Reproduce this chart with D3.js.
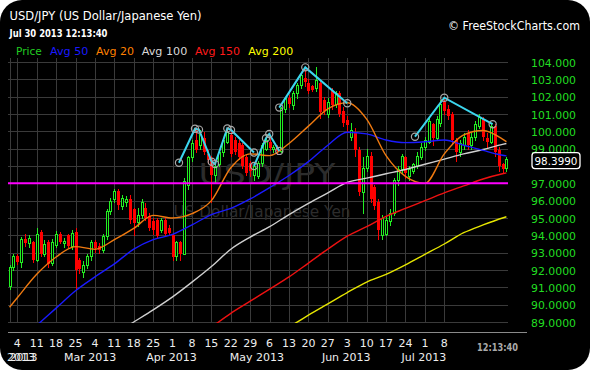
<!DOCTYPE html>
<html><head><meta charset="utf-8">
<script src="https://cdn.jsdelivr.net/npm/d3@7/dist/d3.min.js"></script>
<style>html,body{margin:0;padding:0;background:#fff;}svg{display:block;font-family:"DejaVu Sans",Verdana,sans-serif;}</style>
</head><body><svg id="c" width="590" height="370"></svg>
<script>
// ---------- DATA ----------
const dates = ["01-31","02-01",
"02-04","02-05","02-06","02-07","02-08","02-11","02-12","02-13","02-14","02-15",
"02-18","02-19","02-20","02-21","02-22","02-25","02-26","02-27","02-28","03-01",
"03-04","03-05","03-06","03-07","03-08","03-11","03-12","03-13","03-14","03-15",
"03-18","03-19","03-20","03-21","03-22","03-25","03-26","03-27","03-28","03-29",
"04-01","04-02","04-03","04-04","04-05","04-08","04-09","04-10","04-11","04-12",
"04-15","04-16","04-17","04-18","04-19","04-22","04-23","04-24","04-25","04-26",
"04-29","04-30","05-01","05-02","05-03","05-06","05-07","05-08","05-09","05-10",
"05-13","05-14","05-15","05-16","05-17","05-20","05-21","05-22","05-23","05-24",
"05-27","05-28","05-29","05-30","05-31","06-03","06-04","06-05","06-06","06-07",
"06-10","06-11","06-12","06-13","06-14","06-17","06-18","06-19","06-20","06-21",
"06-24","06-25","06-26","06-27","06-28","07-01","07-02","07-03","07-04","07-05",
"07-08","07-09","07-10","07-11","07-12","07-15","07-16","07-17","07-18","07-19",
"07-22","07-23","07-24","07-25","07-26","07-29","07-30"];

const open = [91.10,92.20,
92.80,92.45,93.80,93.55,93.60, 92.60,94.20,92.95,93.60,92.40,
93.45,94.10,93.55,94.00,93.40, 94.20,92.55,91.90,92.30,92.80,
93.60,93.40,93.15,93.95,95.40, 96.10,96.55,95.70,95.90,96.10,
95.50,94.75,95.20,95.60,95.10, 94.80,94.90,94.30,94.90,94.40,
94.00,92.80,93.60,92.95,96.90, 98.50,99.50,99.20,99.60,98.70,
98.45,97.50,98.10,98.80,99.40, 99.80,99.50,99.30,99.20,98.50,
98.20,97.50,97.40,98.20,99.00, 99.40,99.00,99.10,98.85,101.30,
101.90,101.50,102.20,102.70,103.10, 102.80,102.60,102.50,102.80,101.80,
101.00,102.35,101.60,102.20,101.20, 100.65,99.70,99.95,98.90,96.50,
97.90,98.60,96.80,95.90,94.00, 94.10,94.80,95.30,97.20,97.80,
98.50,97.40,97.70,98.00,98.50, 99.10,99.40,100.40,99.60,100.50,
101.70,101.30,101.00,99.50,98.80, 99.20,99.90,99.20,99.70,100.30,
100.70,99.60,99.40,100.30,98.90, 98.10,97.90];

const high = [92.30,92.90,
92.95,93.90,94.05,94.00,93.70, 94.45,94.30,93.75,93.75,93.80,
94.25,94.20,93.85,94.10,94.30, 94.45,92.70,92.50,92.95,93.75,
93.75,93.55,94.10,95.50,96.15, 96.70,96.70,96.30,96.25,96.30,
95.60,95.60,96.10,95.85,95.30, 95.00,95.00,95.00,95.00,94.60,
94.10,93.70,93.70,97.30,98.60, 99.50,100.15,100.10,99.95,98.90,
98.60,98.20,98.90,99.60,100.15, 100.05,99.70,99.50,99.30,98.70,
98.30,98.20,98.30,99.30,99.80, 99.60,99.20,99.20,101.40,102.00,
102.10,102.30,102.80,103.40,103.60, 103.00,102.70,103.74,102.95,102.00,
101.90,102.50,102.30,102.30,101.40, 100.90,100.50,100.20,99.10,98.50,
99.00,98.80,96.90,96.10,95.20, 95.10,95.50,97.30,98.00,98.70,
98.60,98.00,98.20,98.80,99.30, 99.70,100.80,100.50,100.90,101.80,
101.90,101.50,101.10,99.60,99.50, 99.90,100.10,99.90,100.60,101.00,
100.80,99.90,100.40,100.40,99.10, 98.20,98.50];

const low = [90.90,92.00,
92.35,92.20,93.40,93.30,92.45, 92.50,92.80,92.80,92.20,92.30,
93.30,93.55,93.30,93.30,93.20, 90.90,91.80,91.60,92.10,92.60,
93.05,93.00,93.05,93.80,95.25, 95.90,95.50,95.50,95.70,94.70,
94.00,94.55,95.00,94.90,94.30, 94.10,93.90,94.20,94.00,94.00,
92.60,92.60,92.60,92.90,96.70, 98.30,98.80,99.00,98.70,98.20,
95.90,97.00,98.00,98.60,99.30, 98.60,98.70,98.40,97.90,97.50,
97.40,97.20,97.30,98.00,98.90, 98.90,98.80,98.70,98.80,101.10,
101.40,101.30,101.90,102.50,102.60, 102.20,102.30,102.30,100.75,101.00,
100.80,101.30,101.40,100.90,100.30, 100.00,99.50,98.60,96.30,95.30,
97.70,95.90,95.50,93.80,93.80, 94.00,94.60,95.20,96.90,97.60,
97.30,97.20,97.60,97.90,98.40, 98.90,99.30,99.20,99.50,100.30,
101.00,100.70,99.30,98.30,98.60, 99.00,99.00,99.00,99.50,100.20,
99.50,99.10,99.30,98.60,97.70, 97.60,97.70];

const close = [92.20,92.80,
92.45,93.80,93.55,93.85,92.60, 94.10,92.90,93.50,92.35,93.60,
94.10,93.60,93.65,93.40,94.15, 92.00,92.05,92.30,92.80,93.60,
93.25,93.15,93.95,95.40,96.00, 96.55,95.75,96.15,96.10,94.90,
94.70,95.20,95.95,95.00,94.40, 94.30,93.95,94.90,94.10,94.15,
92.75,93.60,92.95,97.15,98.50, 99.35,98.95,99.85,98.80,98.35,
97.50,98.00,98.80,99.50,99.95, 98.70,98.80,98.50,98.00,97.60,
97.70,98.00,98.20,99.20,99.50, 99.05,99.10,98.85,101.35,101.95,
101.55,102.20,102.70,103.25,102.85, 102.35,102.40,102.95,101.10,101.20,
101.70,101.50,102.20,101.00,100.50, 100.35,100.10,98.90,96.50,97.90,
98.60,96.10,95.70,94.30,95.00, 94.90,95.30,97.20,97.80,98.60,
97.60,97.80,98.10,98.60,99.10, 99.50,100.60,99.60,100.70,101.60,
101.20,100.90,99.50,98.80,99.30, 99.70,99.20,99.70,100.40,100.80,
99.70,99.40,100.30,98.80,98.00, 97.80,98.399];

// moving averages at weekly sample days
const maDays = ["01-31","02-04","02-11","02-18","02-25","03-04","03-11","03-18","03-25","04-01","04-08","04-15","04-22","04-29","05-06","05-13","05-20","05-27","06-03","06-10","06-17","06-24","07-01","07-08","07-15","07-22","07-29","07-30"];
const avg20  = [89.85,90.4,91.75,92.75,93.35,93.2,93.75,94.4,95.15,95.0,95.25,96.0,97.9,98.7,98.6,99.3,100.3,101.3,101.65,100.7,98.6,97.4,97.0,98.7,99.8,100.05,99.55,99.4];
const avg50  = [87.4,87.8,88.8,89.8,90.8,91.6,92.35,93.2,93.75,94.05,94.6,95.2,95.55,96.1,96.75,97.45,98.25,99.2,99.95,99.85,99.5,99.35,99.4,99.5,99.2,98.9,98.62,98.58];
const avg100 = [null,null,null,null,null,87.5,88.3,89.0,89.7,90.45,91.3,92.2,93.2,93.9,94.5,95.2,95.85,96.45,97.05,97.3,97.55,97.8,98.1,98.4,98.7,98.95,99.25,99.3];
const avg150 = [null,null,null,null,null,null,null,null,null,null,87.9,88.7,89.5,90.2,90.9,91.6,92.4,93.2,93.95,94.5,95.1,95.55,96.0,96.45,96.85,97.25,97.55,97.6];
const avg200 = [null,null,null,null,null,null,null,null,null,null,null,null,null,null,null,88.7,89.4,90.05,90.7,91.3,91.75,92.3,92.9,93.5,94.15,94.6,95.0,95.07];

const supportLevel = 97;
// hand-drawn pattern lines: [trading-day position, price]
const pattern1 = [[43.65,98.19],[47.77,100.15],[48.8,100.1],[52.08,98.25],[52.93,98.11],[56.1,100.17],[57.05,100.08],[62.97,98.78]];
const pattern2 = [[62.97,98.0],[66.06,99.6],[66.9,99.85],[69.49,98.87]];
const pattern3 = [[69.49,101.37],[76.19,103.69],[87.0,101.62]];
const pattern4 = [[104.45,99.69],[111.99,101.94],[124.46,100.41]];

const yTicks = [89,90,91,92,93,94,95,96,97,98,99,100,101,102,103,104];
const weekTicks = ["02-04","02-11","02-18","02-25","03-04","03-11","03-18","03-25","04-01","04-08","04-15","04-22","04-29","05-06","05-13","05-20","05-27","06-03","06-10","06-17","06-24","07-01","07-08"];
const monthTicks = ["03-01","04-01","05-01","06-03","07-01"];
const monthLabels = ["Mar 2013","Apr 2013","May 2013","Jun 2013","Jul 2013"];
const legend = [["Price","#22cc22"],["Avg 50","#1a1aff"],["Avg 20","#ff8000"],["Avg 100","#d8d8d8"],["Avg 150","#ff1a1a"],["Avg 200","#ffff00"]];
const lastPrice = 98.399;

// ---------- DRAW ----------
const svg = d3.select("#c");
const idx = d => dates.indexOf(d);
const x = d3.scaleLinear().domain([0, dates.length-1]).range([9.54, 506.4]);
const y = d3.scaleLinear().domain([89,104]).range([322,62]);

svg.append("rect").attr("width",590).attr("height",370).attr("fill","#fff");
svg.append("rect").attr("width",590).attr("height",370).attr("rx",22).attr("ry",22).attr("fill","#000");

const defs = svg.append("defs");
defs.append("clipPath").attr("id","plot").append("rect").attr("x",8).attr("y",58).attr("width",500).attr("height",265);

// grid
const grid = svg.append("g").attr("stroke","#3a3a3a").attr("stroke-width",1);
yTicks.forEach(t=>{ const yy=Math.round(y(t))+0.5;
  grid.append("line").attr("x1",8).attr("x2",508).attr("y1",yy).attr("y2",yy);});
[...weekTicks.map(d=>x(idx(d))), x(0.12)].forEach(xx=>{ const X=Math.round(xx)+0.5;
  grid.append("line").attr("x1",X).attr("x2",X).attr("y1",58).attr("y2",323);});

// watermark
svg.append("text").attr("x",267).attr("y",184).attr("text-anchor","middle").attr("font-size",28)
  .attr("fill","#2c2c2c").attr("textLength",137).attr("lengthAdjust","spacingAndGlyphs").text("USD/JPY");
svg.append("text").attr("x",262).attr("y",217).attr("text-anchor","middle").attr("font-size",16)
  .attr("fill","#2c2c2c").attr("textLength",177).attr("lengthAdjust","spacingAndGlyphs").text("US Dollar/Japanese Yen");

const plot = svg.append("g").attr("clip-path","url(#plot)");

// candles
const cg = plot.append("g");
dates.forEach((d,i)=>{
  const cx = Math.round(x(i));
  const up = close[i] >= open[i];
  const col = up ? "#22ee22" : "#ff0000";
  cg.append("line").attr("x1",cx+0.5).attr("x2",cx+0.5)
    .attr("y1",Math.round(y(high[i]))).attr("y2",Math.round(y(low[i]))+1)
    .attr("stroke",col).attr("stroke-width",1);
  const t = Math.round(y(Math.max(open[i],close[i]))), b = Math.round(y(Math.min(open[i],close[i])));
  if (up) {
    cg.append("rect").attr("x",cx-0.5).attr("y",t+0.5).attr("width",2).attr("height",Math.max(b-t,1))
      .attr("fill","#000").attr("stroke",col).attr("stroke-width",1);
  } else {
    cg.append("rect").attr("x",cx-1).attr("y",t).attr("width",3).attr("height",Math.max(b-t,1)).attr("fill",col);
  }
});

// moving averages
const maLine = d3.line().defined(d=>d.v!=null).x(d=>x(d.i)).y(d=>y(d.v)).curve(d3.curveMonotoneX);
[[avg200,"#e6e600"],[avg150,"#ee1111"],[avg100,"#d0d0d0"],[avg50,"#1a1aff"],[avg20,"#f07a10"]].forEach(([arr,c])=>{
  const pts = maDays.map((d,k)=>({i:idx(d), v:arr[k]}));
  plot.append("path").attr("d",maLine(pts)).attr("fill","none").attr("stroke",c).attr("stroke-width",1.4);
});

// support line
plot.append("line").attr("x1",8).attr("x2",508).attr("y1",y(supportLevel)).attr("y2",y(supportLevel))
  .attr("stroke","#ff00ff").attr("stroke-width",2);

// pattern annotations
const pl = d3.line().x(d=>x(d[0])).y(d=>y(d[1]));
[pattern1,pattern2,pattern3,pattern4].forEach(p=>{
  plot.append("path").attr("d",pl(p)).attr("fill","none").attr("stroke","#3cd6ee").attr("stroke-width",2);
});
[pattern1,pattern2,pattern3,pattern4].forEach(p=>p.forEach(pt=>{
  plot.append("circle").attr("cx",x(pt[0])).attr("cy",y(pt[1])).attr("r",3.6)
    .attr("fill","none").attr("stroke","#a8a8a8").attr("stroke-width",1.2);
}));

// last price box position
const ly = y(lastPrice)+1.5;

// y axis labels (the one under the last-price box is hidden, as in the original)
yTicks.filter(t=>Math.abs(y(t)-ly)>9).forEach(t=>{
  svg.append("text").attr("x",531).attr("y",y(t)+4.5).attr("font-size",11).attr("fill","#22dd22")
    .attr("textLength",45).attr("lengthAdjust","spacingAndGlyphs")
    .text(t>=100 ? t.toFixed(3) : t.toFixed(4));
});
svg.append("rect").attr("x",532).attr("y",ly-8).attr("width",48).attr("height",16).attr("rx",3)
  .attr("fill","#000").attr("stroke","#fff").attr("stroke-width",1.3);
svg.append("text").attr("x",556).attr("y",ly+4.3).attr("text-anchor","middle").attr("font-size",11).attr("fill","#fff")
  .attr("textLength",43).attr("lengthAdjust","spacingAndGlyphs").text(lastPrice.toFixed(4));

// x axis
svg.append("line").attr("x1",8).attr("x2",527).attr("y1",332.5).attr("y2",332.5).attr("stroke","#8a8a8a");
weekTicks.forEach(d=>{
  svg.append("text").attr("x",x(idx(d))).attr("y",347).attr("text-anchor","middle").attr("font-size",11)
    .attr("fill","#eee").text(String(+d.slice(3)));
});
monthTicks.forEach((d,k)=>{
  svg.append("text").attr("x",x(idx(d))-1).attr("y",360.5).attr("text-anchor","middle").attr("font-size",11)
    .attr("fill","#eee").text(monthLabels[k]);
});
svg.append("text").attr("x",7).attr("y",360.5).attr("font-size",11).attr("fill","#eee").text("2013");
svg.append("text").attr("x",9.5).attr("y",360.5).attr("font-size",11).attr("fill","#eee").text("2013");
svg.append("text").attr("x",477).attr("y",351).attr("font-size",10).attr("font-weight","bold").attr("fill","#aaa")
  .attr("textLength",41).attr("lengthAdjust","spacingAndGlyphs").text("12:13:40");

// header
svg.append("text").attr("x",9.5).attr("y",20).attr("font-size",12).attr("fill","#fff")
  .attr("textLength",192).attr("lengthAdjust","spacingAndGlyphs").text("USD/JPY (US Dollar/Japanese Yen)");
svg.append("text").attr("x",9.5).attr("y",37).attr("font-size",10).attr("font-weight","bold").attr("fill","#fff")
  .attr("textLength",98).attr("lengthAdjust","spacingAndGlyphs").text("Jul 30 2013 12:13:40");
const legX = [16,50,96,141.7,195,248.3], legW=[25.7,38.3,38,45.6,45,45];
legend.forEach(([t,c],k)=>{
  svg.append("text").attr("x",legX[k]).attr("y",54.5).attr("font-size",11).attr("fill",c)
    .attr("textLength",legW[k]).attr("lengthAdjust","spacingAndGlyphs").text(t);
});
svg.append("text").attr("x",448).attr("y",29.5).attr("font-size",11.5).attr("fill","#fff")
  .attr("textLength",132).attr("lengthAdjust","spacingAndGlyphs").text("© FreeStockCharts.com");
</script></body></html>
